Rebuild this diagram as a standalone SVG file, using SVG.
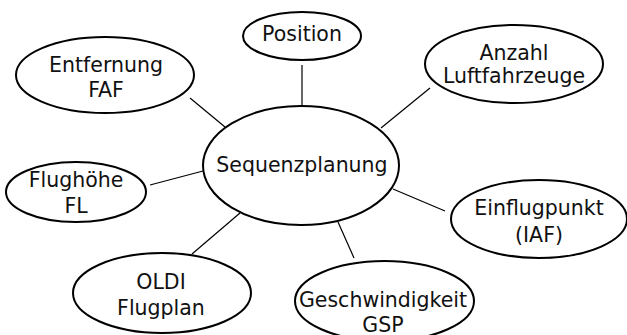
<svg xmlns="http://www.w3.org/2000/svg" width="627" height="335" viewBox="0 0 627 335">
<style>
.n ellipse{fill:#fff;stroke:#000;stroke-width:2}
.n text{font-family:"DejaVu Sans",Verdana,sans-serif;font-size:20.5px;fill:#111;text-anchor:middle}
#connectors line{stroke:#000;stroke-width:1.2}
</style>
<rect width="627" height="335" fill="#fff"/>
<g id="connectors">
<line x1="302" y1="65" x2="302" y2="106"/>
<line x1="190" y1="98" x2="225" y2="127"/>
<line x1="430" y1="88" x2="381" y2="128"/>
<line x1="150" y1="185" x2="203" y2="171"/>
<line x1="192" y1="254" x2="240" y2="213"/>
<line x1="354" y1="258" x2="338" y2="222"/>
<line x1="393" y1="189" x2="445" y2="211"/>
</g>
<g id="center" class="n"><ellipse cx="301" cy="165.5" rx="98" ry="59.5"/><text x="302" y="172">Sequenzplanung</text></g>
<g id="position" class="n"><ellipse cx="302" cy="36" rx="59" ry="24"/><text x="302" y="41">Position</text></g>
<g id="entfernung" class="n"><ellipse cx="105" cy="75" rx="89" ry="38"/><text x="106" y="72">Entfernung</text><text x="106" y="97">FAF</text></g>
<g id="anzahl" class="n"><ellipse cx="514" cy="64" rx="89" ry="39"/><text x="514" y="60">Anzahl</text><text x="514" y="83">Luftfahrzeuge</text></g>
<g id="flughoehe" class="n"><ellipse cx="76" cy="192" rx="70" ry="30"/><text x="76" y="187">Flughöhe</text><text x="76" y="213">FL</text></g>
<g id="oldi" class="n"><ellipse cx="162" cy="293" rx="89" ry="40"/><text x="161" y="289">OLDI</text><text x="161" y="315">Flugplan</text></g>
<g id="geschwindigkeit" class="n"><ellipse cx="384.5" cy="301" rx="89.5" ry="40"/><text x="383" y="307">Geschwindigkeit</text><text x="383" y="332">GSP</text></g>
<g id="einflugpunkt" class="n"><ellipse cx="539" cy="219" rx="88" ry="39"/><text x="539" y="215">Einflugpunkt</text><text x="539" y="242">(IAF)</text></g>
</svg>
